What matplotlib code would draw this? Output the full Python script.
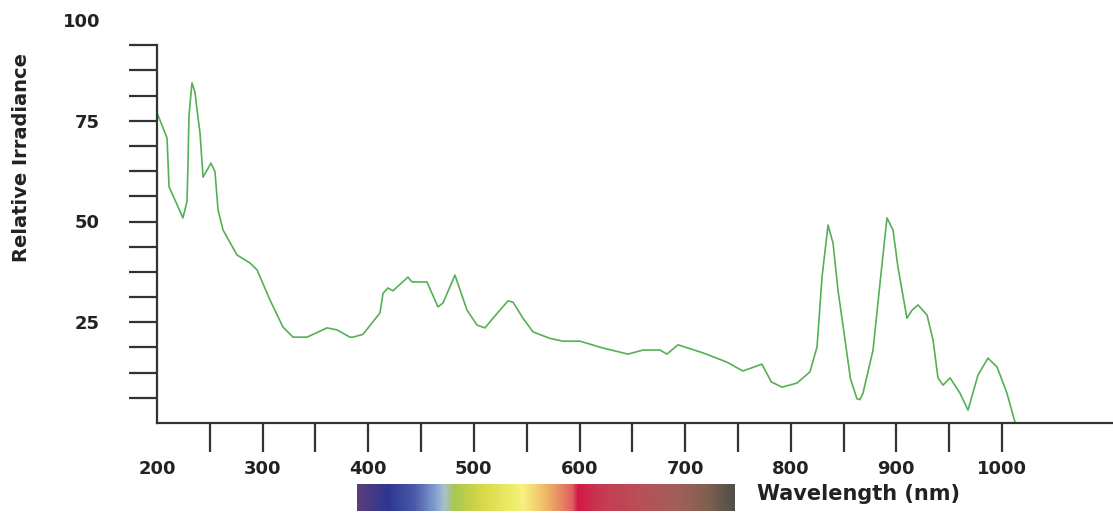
import numpy as np
import matplotlib
matplotlib.use("Agg")
import matplotlib.pyplot as plt
from matplotlib.colors import LinearSegmentedColormap

# spectrum (nm, relative irradiance)
wavelength = [200, 209.5, 211.4, 224.6, 228.4, 229.2, 230.3, 233.1, 236, 237.9, 240.7,
              243.6, 251.1, 254.9, 257.8, 262.5, 275.7, 288, 294.7, 307, 319.3, 328.8,
              342, 361, 370.4, 382.7, 385.6, 395, 411.1, 414, 418.7, 423.4, 437.6, 441.4,
              455.6, 466, 470.8, 482.1, 493.5, 503, 510.5, 518.1, 532.3, 537, 546.5, 556,
              572, 584.4, 600.5, 622.2, 645.9, 660.1, 676.2, 682.8, 693.3, 716.9, 739.6,
              754.7, 772.7, 781.6, 791.7, 805.9, 818.2, 824.9, 829.6, 835.3, 840, 844.7,
              851.4, 856.5, 862.7, 865.5, 868.4, 877.9, 884.5, 891.1, 896.8, 901.5, 910,
              914.8, 920.5, 929, 934.7, 939.4, 944.1, 950.8, 960.2, 967.8, 977.3, 986.7,
              995.3, 1004.7, 1012.3]
irradiance = [77, 70.7, 58.6, 50.9, 55, 62.8, 76.4, 84.4, 82, 77.7, 72,
              61, 64.5, 62.3, 52.9, 47.9, 41.7, 39.7, 38, 30.5, 23.8, 21.3,
              21.3, 23.6, 23.1, 21.3, 21.3, 22, 27.3, 32.2, 33.5, 32.8, 36.2, 35,
              35, 28.8, 29.8, 36.7, 28, 24.3, 23.6, 26, 30.3, 30, 26, 22.6,
              21, 20.3, 20.3, 18.6, 17.1, 18.1, 18.1, 17.1, 19.4, 17.4, 15.1,
              12.9, 14.6, 10.2, 8.9, 9.9, 12.7, 18.9, 36.2, 49.1, 44.7, 33,
              20.6, 11, 6, 5.8, 7.4, 18.1, 34.7, 50.9, 47.9, 38.7, 26,
              28, 29.3, 26.8, 20.6, 11.2, 9.4, 11.2, 7.4, 3.2, 11.9, 16.1,
              13.9, 7.4, 0.2]

xticks = np.arange(250, 1001, 50)
xlabels = [str(t) if t % 100 == 0 else "" for t in xticks]
yticks = list(np.arange(6.25, 94, 6.25)) + [100]
ylabels = ["25" if t == 25 else "50" if t == 50 else "75" if t == 75 else "100" if t == 100 else ""
           for t in yticks]

# visible spectrum strip under the axis
bar_pos = [0, 0.08, 0.15, 0.2, 0.23, 0.255, 0.33, 0.42, 0.44, 0.5, 0.57, 0.585,
           0.64, 0.75, 0.85, 0.93, 1.0]
bar_col = ["#5a3f7a", "#2d3690", "#4a5aa8", "#7a98cc", "#a8c0d0", "#a8c850", "#d8d848",
           "#f0f070", "#f8f080", "#f0b868", "#e06060", "#d41848", "#c83850", "#b85058",
           "#a06058", "#806050", "#505048"]

fig = plt.figure(figsize=(11.13, 5.17), dpi=100)
ax = fig.add_axes([157 / 1113, 94 / 517, 956 / 1113, 403 / 517])

ax.plot(wavelength, irradiance, color="#55b055", lw=1.2)
ax.set_xlim(200, 200 + 956 / 1.05625)
ax.set_ylim(0, 100)

for s in ["top", "right"]:
    ax.spines[s].set_visible(False)
for s in ["left", "bottom"]:
    ax.spines[s].set_color("#333333")
    ax.spines[s].set_linewidth(1.6)
ax.spines["left"].set_bounds(0, 93.75)

ax.set_xticks(xticks)
ax.set_xticklabels(xlabels)
ax.set_yticks(yticks)
ax.set_yticklabels(ylabels)
ax.yaxis.get_major_ticks()[-1].tick1line.set_visible(False)
ax.tick_params(axis="y", length=20, width=1.6, color="#333333", pad=21,
               labelsize=13)
ax.tick_params(axis="x", length=21, width=1.6, color="#333333", pad=6,
               labelsize=13)
for lab in ax.get_xticklabels() + ax.get_yticklabels():
    lab.set_fontweight("bold")
    lab.set_color("#222222")

# 200 label sits at the axis corner without a tick
ax.text(200, -9.3, "200", ha="center", va="top", fontsize=13, fontweight="bold",
        color="#222222")

fig.text(22 / 1113, 1 - 158 / 517, "Relative Irradiance", rotation=90, ha="center",
         va="center", fontsize=14, fontweight="bold", color="#222222")

cax = fig.add_axes([357 / 1113, 1 - 511 / 517, 378 / 1113, 27 / 517])
cmap = LinearSegmentedColormap.from_list("vis", list(zip(bar_pos, bar_col)))
cax.imshow(np.linspace(0, 1, 400)[None, :], aspect="auto", cmap=cmap)
cax.set_axis_off()

fig.text(757 / 1113, 1 - 494 / 517, "Wavelength (nm)", ha="left", va="center",
         fontsize=15, fontweight="bold", color="#222222")

fig.savefig("out.png", dpi=100)
